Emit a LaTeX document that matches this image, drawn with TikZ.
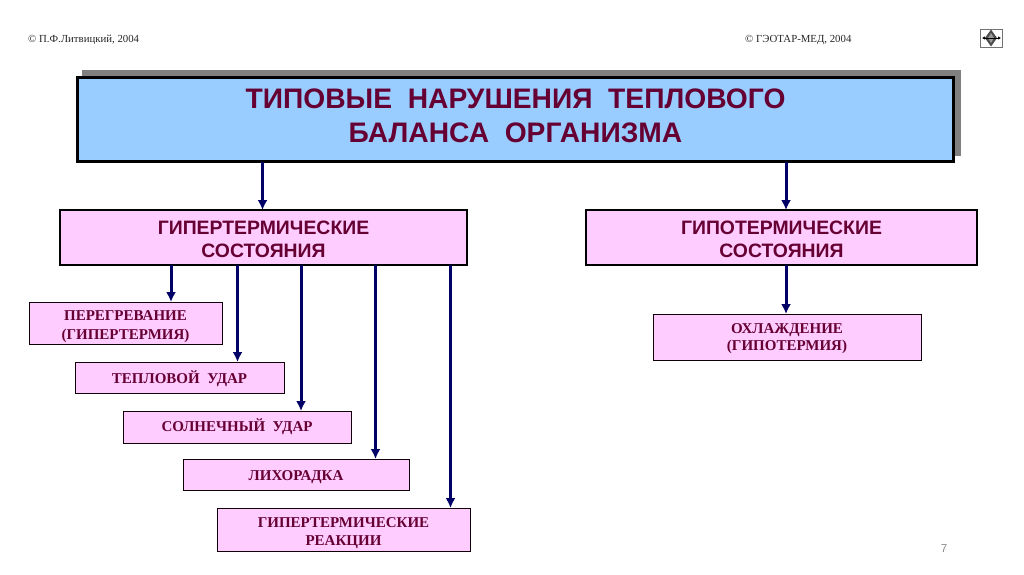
\documentclass[tikz,border=0pt]{standalone}
\usepackage{fontspec}
\setmainfont{Liberation Serif}
\newfontfamily\hsans{Liberation Sans}
\usetikzlibrary{arrows.meta}
\definecolor{wine}{HTML}{660033}
\definecolor{pinkbox}{HTML}{FFCCFF}
\definecolor{bluebox}{HTML}{99CCFF}
\definecolor{navyline}{HTML}{000066}
\definecolor{shadowgray}{HTML}{808080}
\tikzset{
  x=1pt,y=-1pt,
  box/.style={draw=black,fill=pinkbox,inner sep=0pt,outer sep=0pt,anchor=north west,align=center,text=wine},
  down/.style={text height=#1,text depth=0pt},
  titlebox/.style={box,fill=bluebox,line width=3.3pt,font=\hsans\bfseries\fontsize{28.2}{34}\selectfont},
  headbox/.style={box,line width=2pt,font=\hsans\bfseries\fontsize{19.4}{23}\selectfont},
  itembox/.style={box,line width=0.8pt,draw=black!85!wine,font=\bfseries\fontsize{15}{18}\selectfont},
  smalltext/.style={inner sep=0pt,anchor=west,text=black!85,font=\fontsize{10.8}{12}\selectfont},
  conn/.style={navyline,line width=3pt,-{Latex[length=10pt,width=10pt]}},
}
\begin{document}
\begin{tikzpicture}
\useasboundingbox (0,0) rectangle (1024,574);
\fill[white] (0,0) rectangle (1024,574);
\fill[shadowgray] (82,70) rectangle (961,156);
\node[titlebox,down=45pt,minimum width=876pt,minimum height=84pt] (title) at (77.5,77.5) {ТИПОВЫЕ\ \ НАРУШЕНИЯ\ \ ТЕПЛОВОГО\\БАЛАНСА\ \ ОРГАНИЗМА};
\node[headbox,down=39pt,minimum width=407pt,minimum height=55pt] (hyper) at (60,210) {ГИПЕРТЕРМИЧЕСКИЕ\\СОСТОЯНИЯ};
\node[headbox,down=39pt,minimum width=391pt,minimum height=55pt] (hypo) at (586,210) {ГИПОТЕРМИЧЕСКИЕ\\СОСТОЯНИЯ};
\node[itembox,down=32pt,minimum width=193pt,minimum height=42pt] (over) at (29,302) {ПЕРЕГРЕВАНИЕ\\[1pt](ГИПЕРТЕРМИЯ)};
\node[itembox,down=11pt,minimum width=209pt,minimum height=31pt] (heat) at (75,362) {ТЕПЛОВОЙ\ \ УДАР};
\node[itembox,down=8pt,minimum width=228pt,minimum height=32pt] (sun) at (123,411) {СОЛНЕЧНЫЙ\ \ УДАР};
\node[itembox,down=11pt,minimum width=226pt,minimum height=31pt] (fever) at (183,459) {ЛИХОРАДКА};
\node[itembox,down=31pt,minimum width=253pt,minimum height=43pt] (react) at (217,508) {ГИПЕРТЕРМИЧЕСКИЕ\\РЕАКЦИИ};
\node[itembox,down=26pt,minimum width=268pt,minimum height=46pt] (cool) at (653,314) {ОХЛАЖДЕНИЕ\\[-1pt](ГИПОТЕРМИЯ)};
\draw[conn] (title.south -| 262.5,0) -- (hyper.north -| 262.5,0);
\draw[conn] (title.south -| 786,0) -- (hypo.north -| 786,0);
\draw[conn] (hyper.south -| 171,0) -- (over.north -| 171,0);
\draw[conn] (hyper.south -| 237.5,0) -- (heat.north -| 237.5,0);
\draw[conn] (hyper.south -| 301,0) -- (sun.north -| 301,0);
\draw[conn] (hyper.south -| 375.5,0) -- (fever.north -| 375.5,0);
\draw[conn] (hyper.south -| 450.5,0) -- (react.north -| 450.5,0);
\draw[conn] (hypo.south -| 786,0) -- (cool.north -| 786,0);
\node[smalltext] (c1) at (28,40) {© П.Ф.Литвицкий, 2004};
\node[smalltext] (c2) at (745,40) {© ГЭОТАР-МЕД, 2004};
\node[inner sep=0pt,text=black!45,font=\hsans\fontsize{11.5}{13}\selectfont] (pg) at (944,549) {7};
% icon
\draw[black!55,line width=0.6pt,fill=white] (980.5,29.5) rectangle (1002.5,47);
\fill[black!70] (991,29.5) -- (997,38) -- (991,46.5) -- (985,38) -- cycle;
\fill[white!60!black] (991,33) -- (994,38) -- (991,43) -- (988,38) -- cycle;
\draw[black,line width=1pt,{Latex[length=3pt,width=3.5pt]}-{Latex[length=3pt,width=3.5pt]}] (982,38) -- (1001,38);
\end{tikzpicture}
\end{document}
